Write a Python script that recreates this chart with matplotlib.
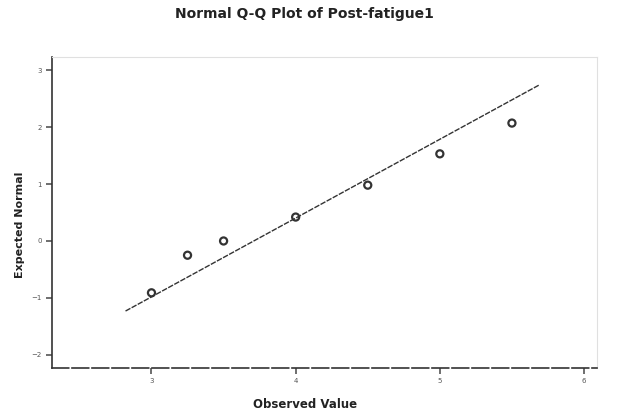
import matplotlib
matplotlib.use("Agg")
import matplotlib.pyplot as plt

plt.rcParams['font.family'] = ['DejaVu Sans']

# Data
observed = [3.0, 3.25, 3.5, 4.0, 4.5, 5.0, 5.5]
expected = [-0.91, -0.25, 0.0, 0.42, 0.98, 1.53, 2.07]
line_x = [2.82, 5.69]
line_y = [-1.23, 2.74]
x_ticks = [3, 4, 5, 6]
y_ticks = [-2, -1, 0, 1, 2, 3]

fig = plt.figure(figsize=(6.18, 4.13), dpi=100)
ax = fig.add_axes([52/618, 1-368/413, (597-52)/618, (368-57)/413])

ax.plot(line_x, line_y, color="#333333", lw=1.0, ls=(0, (4, 1)))
ax.scatter(observed, expected, s=26, facecolors="none", edgecolors="#333333", linewidths=1.6, zorder=3)

ax.set_xlim(2.31, 6.09)
ax.set_ylim(-2.23, 3.23)
ax.set_xticks(x_ticks)
ax.set_yticks(y_ticks)
ax.tick_params(labelsize=5, colors="#555555", length=4, width=1.2)
for s in ["top", "right"]:
    ax.spines[s].set_color("#e0e0e0")
    ax.spines[s].set_linewidth(0.8)
for s in ["left", "bottom"]:
    ax.spines[s].set_color("#333333")
    ax.spines[s].set_linewidth(1.2)
ax.spines["bottom"].set_linestyle((0, (10, 2)))

fig.text(304/618, 1-14/413, "Normal Q-Q Plot of Post-fatigue1", ha="center", va="center",
         fontsize=10, fontweight="bold", color="#222222")
fig.text(20/618, 1-225/413, "Expected Normal", ha="center", va="center", rotation=90,
         fontsize=8, fontweight="bold", color="#222222")
fig.text(305/618, 1-404/413, "Observed Value", ha="center", va="center",
         fontsize=8.5, fontweight="bold", color="#222222")

fig.savefig("out.png", dpi=100)
